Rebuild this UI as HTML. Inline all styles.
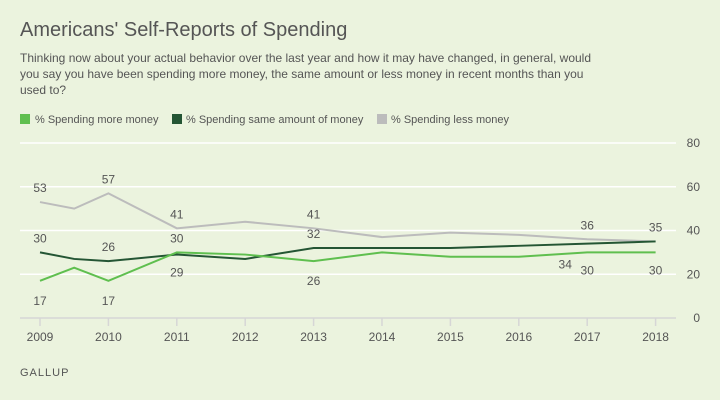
<!DOCTYPE html>
<html><head><meta charset="utf-8"><style>
body{margin:0;width:720px;height:400px;background:#ebf3de;font-family:"Liberation Sans",sans-serif;overflow:hidden}
</style></head><body>
<svg width="720" height="400" style="position:absolute;left:0;top:0">
<text x="20" y="36" font-size="20" fill="#555">Americans' Self-Reports of Spending</text>
<text font-size="12" fill="#555">
<tspan x="20" y="62">Thinking now about your actual behavior over the last year and how it may have changed, in general, would</tspan>
<tspan x="20" y="78">you say you have been spending more money, the same amount or less money in recent months than you</tspan>
<tspan x="20" y="94">used to?</tspan></text>
<g font-size="11" fill="#555">
<rect x="20" y="114" width="10" height="10" fill="#5fbf4f"/><text x="35" y="123">% Spending more money</text>
<rect x="172" y="114" width="10" height="10" fill="#245534"/><text x="186" y="123">% Spending same amount of money</text>
<rect x="377" y="114" width="10" height="10" fill="#bcbcbc"/><text x="391" y="123">% Spending less money</text>
</g>
<g id="plot"></g>
<text x="20" y="376" font-size="11" fill="#555" letter-spacing="1">GALLUP</text>
</svg>
<script>
const xs=[2009,2009.5,2010,2011,2012,2013,2014,2015,2016,2017,2018];
const more=[17,23,17,30,29,26,30,28,28,30,30];
const same=[30,27,26,29,27,32,32,32,33,34,35];
const less=[53,50,57,41,44,41,37,39,38,36,35];
const yTicks=[0,20,40,60,80];
const xTicks=[2009,2010,2011,2012,2013,2014,2015,2016,2017,2018];
const labels=[
 {s:'less',i:0,dy:-10},{s:'less',i:2,dy:-10},{s:'less',i:3,dy:-10},{s:'less',i:5,dy:-10},{s:'less',i:9,dy:-10},{s:'less',i:10,dy:-10},
 {s:'same',i:0,dy:-10},{s:'same',i:2,dy:-10},{s:'same',i:5,dy:-10},{s:'same',i:9,dx:-22,dy:25},
 {s:'more',i:0,dy:24},{s:'more',i:2,dy:24},{s:'more',i:3,dy:-10},{s:'same',i:3,dy:22},{s:'more',i:5,dy:24},{s:'more',i:9,dy:22},{s:'more',i:10,dy:22}
];
const series={more,same,less};
const X=v=>40+(v-2009)*68.4;
const Y=v=>318-v*2.1875;
const NS='http://www.w3.org/2000/svg';
const g=document.getElementById('plot');
function mk(t,a){const e=document.createElementNS(NS,t);for(const k in a)e.setAttribute(k,a[k]);g.appendChild(e);return e;}
yTicks.forEach(t=>{
 if(t>0){const l=mk('line',{x1:20,x2:676,y1:Y(t),y2:Y(t),stroke:'#fff','stroke-width':1.5});
 
 }
 const tx=mk('text',{x:700,y:Y(t)+4,'font-size':12,fill:'#555','text-anchor':'end'});tx.textContent=t;
 
 
});
const ax=mk('line',{x1:20,x2:676,y1:318,y2:318,stroke:'#d6d6d6','stroke-width':1.5});


xTicks.forEach(t=>{
 const l=mk('line',{x1:X(t),x2:X(t),y1:318,y2:326,stroke:'#d6d6d6','stroke-width':1.5});
 
 
 const tx=mk('text',{x:X(t),y:341,'font-size':12,fill:'#555','text-anchor':'middle'});tx.textContent=t;
 
 
});
[['less','#bcbcbc'],['same','#245534'],['more','#5fbf4f']].forEach(([k,c])=>{
 const p=mk('polyline',{points:series[k].map((v,i)=>X(xs[i])+','+Y(v)).join(' '),fill:'none',stroke:c,'stroke-width':2});
 
 
});
labels.forEach(o=>{
 const v=series[o.s][o.i];
 const tx=mk('text',{x:X(xs[o.i])+(o.dx||0),y:Y(v)+o.dy,'font-size':12,fill:'#555','text-anchor':'middle'});tx.textContent=v;
 
 
});
</script>
</body></html>
